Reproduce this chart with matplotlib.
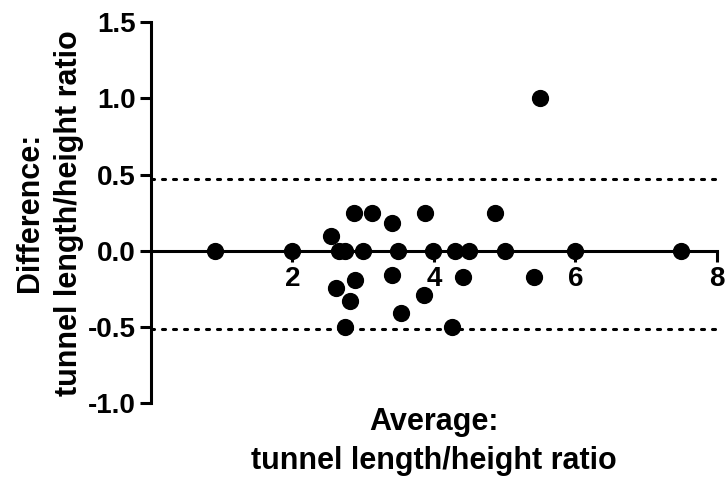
import numpy as np
import matplotlib
matplotlib.use("Agg")
import matplotlib.pyplot as plt

plt.rcParams['font.family'] = ['Liberation Sans', 'DejaVu Sans']
plt.rcParams['font.weight'] = 'bold'

# Bland-Altman data (average vs difference)
avg = [0.90, 2.00, 2.55, 2.66, 2.75, 2.87, 3.12, 3.41, 3.87, 3.00,
       3.49, 3.99, 4.30, 4.50, 5.00, 5.99, 7.49, 4.86, 5.50, 3.41,
       2.89, 2.61, 3.86, 2.82, 3.54, 2.75, 4.25, 4.41, 5.41]
diff = [0.00, 0.00, 0.10, 0.00, 0.00, 0.25, 0.25, 0.18, 0.25, 0.00,
        0.00, 0.00, 0.00, 0.00, 0.00, 0.00, 0.00, 0.25, 1.00, -0.16,
        -0.19, -0.24, -0.29, -0.33, -0.41, -0.50, -0.50, -0.17, -0.17]
upper_loa = 0.47
lower_loa = -0.51

xticks = [2, 4, 6, 8]
yticks = [-1.0, -0.5, 0.0, 0.5, 1.0, 1.5]

fig = plt.figure(figsize=(7.25, 4.82), dpi=100)
ax = fig.add_axes([0.208, 0.163, 0.781, 0.791])

ax.axhline(upper_loa, color='black', lw=2.2, ls=(0, (1, 2.6)), dash_capstyle='round')
ax.axhline(lower_loa, color='black', lw=2.2, ls=(0, (1, 2.6)), dash_capstyle='round')
ax.scatter(avg, diff, s=130, color='black', zorder=4, clip_on=False)

ax.set_xlim(0, 8)
ax.set_ylim(-1.0, 1.5)
ax.set_xticks(xticks)
ax.set_yticks(yticks)
ax.set_xticklabels([str(t) for t in xticks])
ax.set_yticklabels(['%.1f' % t for t in yticks])

ax.spines['bottom'].set_position(('data', 0))
ax.spines['left'].set_position(('data', 0))
ax.spines['top'].set_visible(False)
ax.spines['right'].set_visible(False)
for s in ['bottom', 'left']:
    ax.spines[s].set_linewidth(2.2)
ax.tick_params(width=2.2, length=8, labelsize=20, pad=3, direction='out')

ax.set_xlabel('Average:\ntunnel length/height ratio', fontsize=22,
              fontweight='bold', linespacing=1.4)
ax.xaxis.set_label_coords(0.5, -0.01)
ax.set_ylabel('Difference:\ntunnel length/height ratio', fontsize=22,
              fontweight='bold', linespacing=1.4)
ax.yaxis.set_label_coords(-0.118, 0.5)

fig.savefig('out.png', dpi=100)
